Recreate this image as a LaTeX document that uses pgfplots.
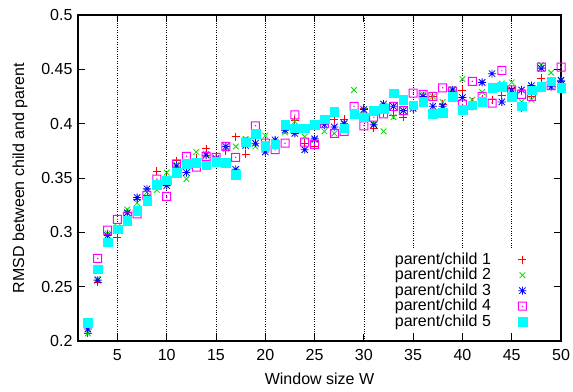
\documentclass[border=0pt]{standalone}
\usepackage{fontspec}
\setmainfont{Liberation Sans}
\usepackage{pgfplots}
\usepackage{pgfplotstable}
\pgfplotsset{compat=1.18}
\definecolor{gpred}{rgb}{1,0,0}
\definecolor{gpgreen}{rgb}{0,0.88,0}
\definecolor{gpblue}{rgb}{0,0,1}
\definecolor{gpmag}{rgb}{1,0,1}
\definecolor{gpcyan}{rgb}{0,1,1}
\pgfdeclareplotmark{gpstar}{%
  \pgfpathmoveto{\pgfpoint{-\pgfplotmarksize}{0pt}}\pgfpathlineto{\pgfpoint{\pgfplotmarksize}{0pt}}%
  \pgfpathmoveto{\pgfpoint{0pt}{-\pgfplotmarksize}}\pgfpathlineto{\pgfpoint{0pt}{\pgfplotmarksize}}%
  \pgfpathmoveto{\pgfpoint{-0.8\pgfplotmarksize}{-0.8\pgfplotmarksize}}\pgfpathlineto{\pgfpoint{0.8\pgfplotmarksize}{0.8\pgfplotmarksize}}%
  \pgfpathmoveto{\pgfpoint{-0.8\pgfplotmarksize}{0.8\pgfplotmarksize}}\pgfpathlineto{\pgfpoint{0.8\pgfplotmarksize}{-0.8\pgfplotmarksize}}%
  \pgfusepathqstroke}
\pgfdeclareplotmark{gpsq}{%
  \pgfpathrectangle{\pgfpoint{-4.5bp}{-4.5bp}}{\pgfpoint{9bp}{9bp}}%
  \pgfpathrectangle{\pgfpoint{-3.5bp}{-3.5bp}}{\pgfpoint{7bp}{7bp}}%
  \pgfpathrectangle{\pgfpoint{-0.6bp}{-0.6bp}}{\pgfpoint{1.2bp}{1.2bp}}%
  \pgfseteorule
  \pgfusepathqfill}
\pgfplotstableread{
x r g b m c
2 0.207 0.207 0.211 0.216 0.217
3 0.254 0.257 0.256 0.276 0.266
4 0.298 0.299 0.297 0.302 0.291
5 0.295 0.305 0.303 0.312 0.303
6 0.318 0.321 0.318 0.315 0.311
7 0.330 0.327 0.332 0.317 0.320
8 0.334 0.337 0.340 0.334 0.329
9 0.356 0.339 0.345 0.349 0.344
10 0.350 0.355 0.343 0.333 0.348
11 0.366 0.362 0.361 0.363 0.355
12 0.362 0.349 0.355 0.370 0.363
13 0.368 0.374 0.365 0.360 0.364
14 0.377 0.372 0.371 0.370 0.362
15 0.368 0.366 0.368 0.369 0.365
16 0.375 0.377 0.379 0.379 0.364
17 0.388 0.379 0.358 0.369 0.353
18 0.372 0.386 0.380 0.383 0.383
19 0.387 0.379 0.382 0.398 0.391
20 0.383 0.389 0.374 0.382 0.380
21 0.384 0.382 0.385 0.376 0.381
22 0.395 0.392 0.394 0.382 0.399
23 0.403 0.402 0.391 0.408 0.396
24 0.382 0.388 0.376 0.383 0.396
25 0.379 0.385 0.386 0.381 0.399
26 0.400 0.393 0.399 0.400 0.404
27 0.404 0.391 0.397 0.391 0.411
28 0.404 0.400 0.400 0.393 0.396
29 0.410 0.431 0.410 0.416 0.409
30 0.414 0.412 0.413 0.398 0.406
31 0.396 0.400 0.399 0.406 0.412
32 0.410 0.393 0.418 0.409 0.414
33 0.408 0.406 0.416 0.416 0.428
34 0.406 0.412 0.412 0.412 0.422
35 0.413 0.418 0.414 0.428 0.417
36 0.425 0.427 0.425 0.427 0.420
37 0.425 0.425 0.416 0.425 0.409
38 0.418 0.420 0.416 0.433 0.410
39 0.430 0.432 0.431 0.430 0.425
40 0.431 0.441 0.424 0.418 0.413
41 0.420 0.422 0.416 0.439 0.417
42 0.423 0.429 0.438 0.425 0.420
43 0.422 0.431 0.446 0.419 0.433
44 0.426 0.437 0.420 0.449 0.434
45 0.432 0.438 0.431 0.431 0.425
46 0.414 0.420 0.431 0.427 0.416
47 0.425 0.422 0.435 0.425 0.431
48 0.442 0.454 0.451 0.452 0.434
49 0.435 0.447 0.434 0.435 0.439
50 0.439 0.440 0.440 0.452 0.433
}\rmsd
\begin{document}
\fontsize{16bp}{19bp}\selectfont
\begin{tikzpicture}
\useasboundingbox (-78bp,-51bp) rectangle (495bp,341bp);
\begin{axis}[
  at={(0,0)}, anchor=south west,
  scale only axis, width=483bp, height=326bp,
  xmin=1, xmax=50, ymin=0.2, ymax=0.5,
  xtick={5,10,...,50},
  ytick={0.2,0.25,0.3,0.35,0.4,0.45,0.5},
  yticklabels={0.2,0.25,0.3,0.35,0.4,0.45,0.5},
  tick align=inside, tick pos=both,
  major tick length=7bp,
  every tick/.style={black, line width=0.8bp},
  axis line style={line width=1.2bp},
  /pgf/number format/assume math mode=true,
  ticklabel style={font=\fontsize{16bp}{19bp}\selectfont},
  xticklabel style={yshift=-3bp},
  label style={font=\fontsize{16bp}{19bp}\selectfont},
  xlabel={Window size W}, ylabel={RMSD between child and parent},
  xlabel style={yshift=-1bp},
  ylabel style={yshift=3bp},
  xmajorgrids, grid style={black, dotted, line width=0.6bp},
  clip=false,
  legend style={at={(0.934,0.025)}, anchor=south east, draw=none, fill=white,
    font=\fontsize{16bp}{19bp}\selectfont, cells={anchor=east}, row sep=-2.5bp,
    column sep=25bp, inner sep=2bp},
  legend plot pos=right,
]
\addplot[only marks, mark=+, mark size=4bp, draw=gpred, mark options={draw=gpred}, line width=0.8bp] table[x=x,y=r]{\rmsd};
\addlegendentry{\hspace*{26bp}parent/child 1}
\addplot[only marks, mark=x, mark size=4bp, draw=gpgreen, mark options={draw=gpgreen}, line width=0.8bp] table[x=x,y=g]{\rmsd};
\addlegendentry{parent/child 2}
\addplot[only marks, mark=gpstar, mark size=4bp, draw=gpblue, mark options={draw=gpblue}, line width=0.8bp] table[x=x,y=b]{\rmsd};
\addlegendentry{parent/child 3}
\addplot[only marks, mark=gpsq, draw=gpmag, fill=gpmag, mark options={draw=gpmag, fill=gpmag}] table[x=x,y=m]{\rmsd};
\addlegendentry{parent/child 4}
\addplot[only marks, mark=square*, mark size=4.3bp, draw=gpcyan, fill=gpcyan, mark options={draw=gpcyan, fill=gpcyan}, line width=0.3bp] table[x=x,y=c]{\rmsd};
\addlegendentry{parent/child 5}
\end{axis}
\end{tikzpicture}
\end{document}
